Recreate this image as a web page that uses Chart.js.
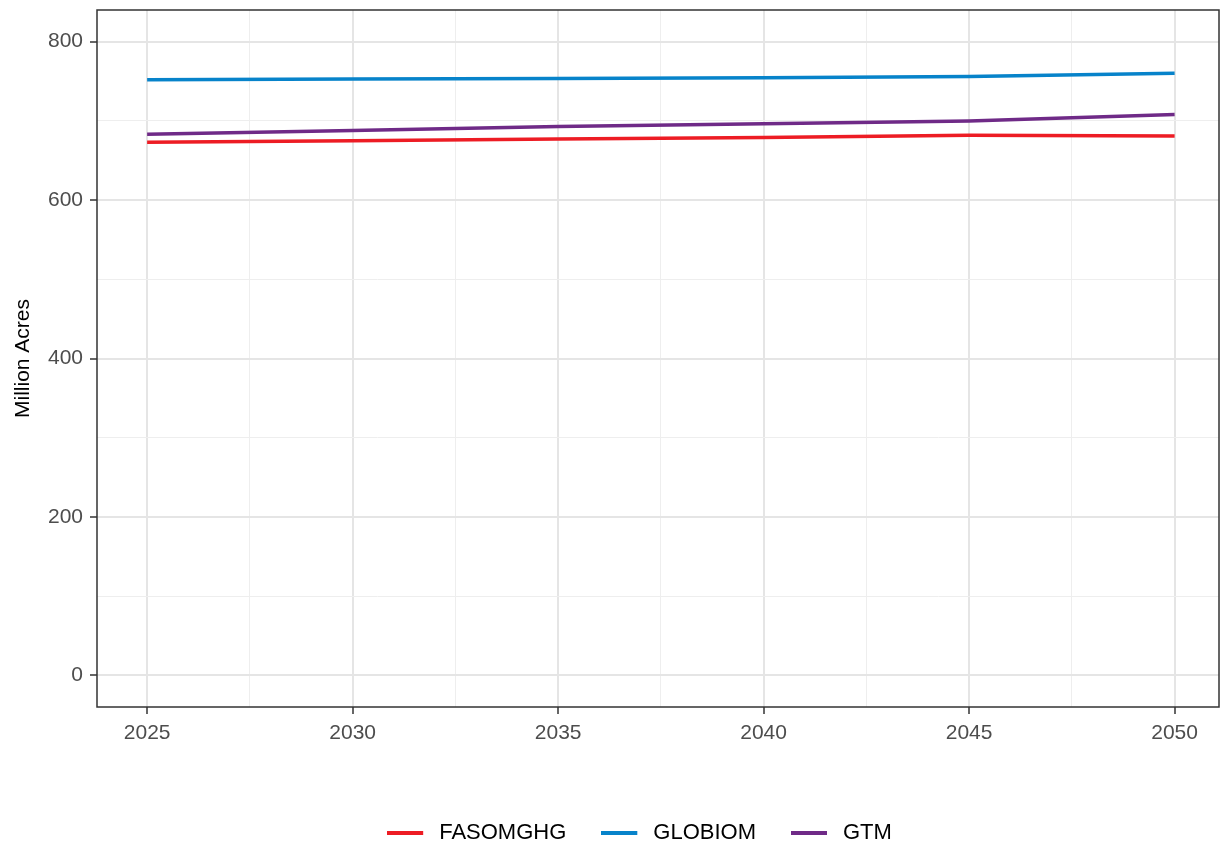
<!DOCTYPE html>
<html>
<head>
<meta charset="utf-8">
<script src="https://cdn.jsdelivr.net/npm/chart.js@4/dist/chart.umd.min.js"></script>
<style>
  html, body { margin: 0; padding: 0; background: #fff; }
  #wrap { width: 1220px; height: 844px; position: relative; }
</style>
</head>
<body>
<div id="wrap"><canvas id="chart"></canvas></div>
<script>
(function () {
    'use strict';

    var years = [2025, 2030, 2035, 2040, 2045, 2050];
    var fasomghg = [673, 675, 677, 679, 682, 681];
    var globiom  = [752, 753, 753.5, 754.5, 756, 760];
    var gtm      = [683, 688, 693, 696.5, 700, 708];

    var xTicks = [2025, 2027.5, 2030, 2032.5, 2035, 2037.5, 2040, 2042.5, 2045, 2047.5, 2050];
    var yTicks = [0, 100, 200, 300, 400, 500, 600, 700, 800];

    var FONT = '"Liberation Sans", Arial, sans-serif';

    function toPoints(vals) {
        return vals.map(function (v, i) { return { x: years[i], y: v }; });
    }

    // legend key: 36px line, then blank space before the label
    function keyGlyph(color) {
        var c = document.createElement('canvas');
        c.width = 41; c.height = 4;
        var g = c.getContext('2d');
        g.fillStyle = color;
        g.fillRect(0, 0, 36, 4);
        return c;
    }

    function series(label, vals, color) {
        return {
            label: label, data: toPoints(vals),
            borderColor: color, backgroundColor: color,
            borderWidth: 3.5, pointRadius: 0, tension: 0, fill: false,
            pointStyle: keyGlyph(color)
        };
    }

    var isMajorX = function (v) { return v % 5 === 0; };
    var isMajorY = function (v) { return v % 200 === 0; };

    var panelBorder = {
        id: 'panelBorder',
        afterLayout: function (chart) {
            // legend in the reference sits a little right of centre
            if (chart.legend) { chart.legend.left += 30; chart.legend.right += 30; }
        },
        afterDatasetsDraw: function (chart) {
            var a = chart.chartArea, c = chart.ctx;
            c.save();
            c.strokeStyle = '#333333';
            c.lineWidth = 1.5;
            c.strokeRect(a.left, a.top, a.right - a.left, a.bottom - a.top);
            c.restore();
        }
    };

    new Chart(document.getElementById('chart'), {
        type: 'line',
        data: {
            datasets: [
                series('FASOMGHG', fasomghg, '#ED1C24'),
                series('GLOBIOM', globiom, '#0783CA'),
                series('GTM', gtm, '#6F2A87')
            ]
        },
        options: {
            responsive: true, maintainAspectRatio: false, animation: false,
            layout: { padding: { left: 0, right: 1, top: 10, bottom: -10 } },
            plugins: {
                legend: {
                    position: 'bottom',
                    labels: {
                        usePointStyle: true, pointStyleWidth: 41, boxHeight: 4, padding: 35,
                        color: '#000', font: { family: FONT, size: 22 }
                    }
                },
                tooltip: { enabled: false }
            },
            scales: {
                x: {
                    type: 'linear', min: 2023.78, max: 2051.08,
                    afterBuildTicks: function (s) { s.ticks = xTicks.map(function (v) { return { value: v }; }); },
                    afterFit: function (s) { s.height = 80; s.paddingLeft = 0; s.paddingRight = 0; },
                    border: { display: false },
                    grid: {
                        color: function (c) { return isMajorX(c.tick.value) ? '#e5e5e5' : '#eeeeee'; },
                        lineWidth: function (c) { return isMajorX(c.tick.value) ? 2 : 1; },
                        tickColor: function (c) { return isMajorX(c.tick.value) ? '#333333' : 'rgba(0,0,0,0)'; },
                        tickWidth: 1.5, tickLength: 7
                    },
                    ticks: {
                        autoSkip: false, maxRotation: 0, padding: 7,
                        color: '#4d4d4d', font: { family: FONT, size: 21 },
                        callback: function (v) { return isMajorX(v) ? String(v) : ''; }
                    }
                },
                y: {
                    type: 'linear', min: -40, max: 840,
                    afterBuildTicks: function (s) { s.ticks = yTicks.map(function (v) { return { value: v }; }); },
                    afterFit: function (s) { s.width = 97; s.paddingTop = 0; s.paddingBottom = 0; },
                    border: { display: false },
                    grid: {
                        color: function (c) { return isMajorY(c.tick.value) ? '#e5e5e5' : '#eeeeee'; },
                        lineWidth: function (c) { return isMajorY(c.tick.value) ? 2 : 1; },
                        tickColor: function (c) { return isMajorY(c.tick.value) ? '#333333' : 'rgba(0,0,0,0)'; },
                        tickWidth: 1.5, tickLength: 7
                    },
                    ticks: {
                        autoSkip: false, padding: 7,
                        color: '#4d4d4d', font: { family: FONT, size: 21 },
                        callback: function (v) { return isMajorY(v) ? String(v) : ''; }
                    },
                    title: {
                        display: true, text: 'Million Acres', color: '#000',
                        font: { family: FONT, size: 21 }, padding: { top: 11, bottom: 0 }
                    }
                }
            }
        },
        plugins: [panelBorder]
    });
})();
</script>
</body>
</html>
